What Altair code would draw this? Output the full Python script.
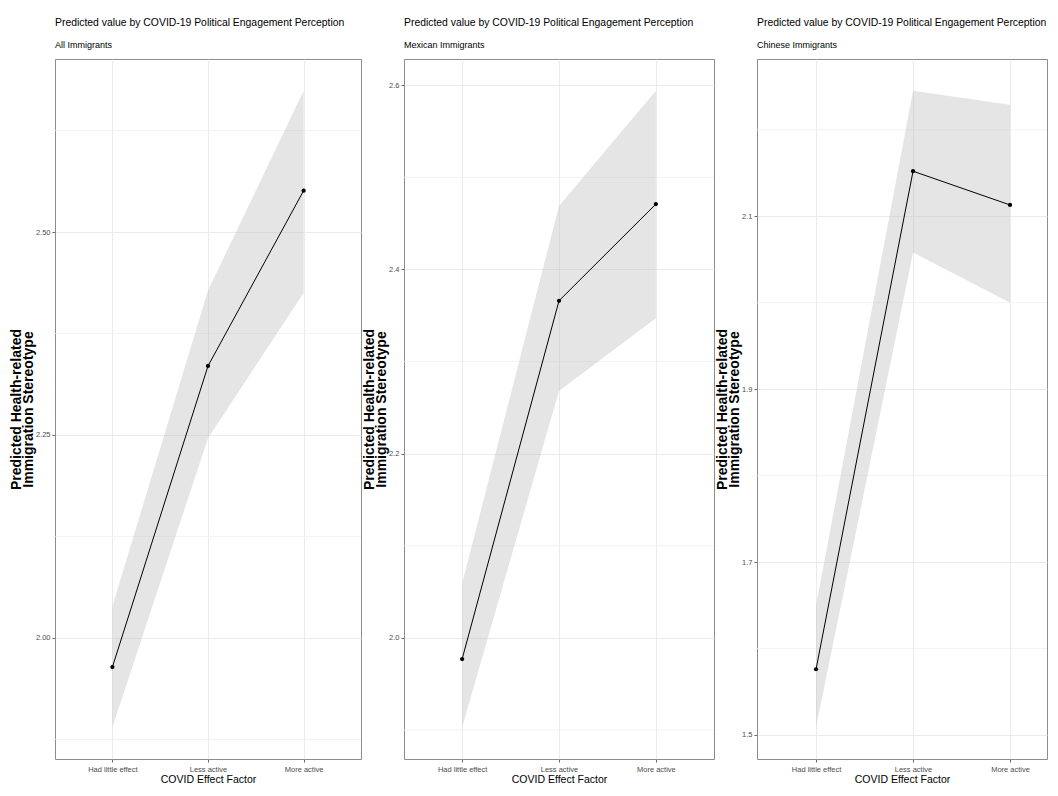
import altair as alt
import pandas as pd

# ---- data ----
categories = ["Had little effect", "Less active", "More active"]
panel_names = ["All Immigrants", "Mexican Immigrants", "Chinese Immigrants"]

fit_all = [1.964, 2.335, 2.551]
lower_all = [1.890, 2.246, 2.425]
upper_all = [2.039, 2.428, 2.674]

fit_mex = [1.977, 2.366, 2.471]
lower_mex = [1.903, 2.268, 2.347]
upper_mex = [2.059, 2.469, 2.594]

fit_chn = [1.576, 2.152, 2.113]
lower_chn = [1.509, 2.058, 2.000]
upper_chn = [1.650, 2.245, 2.229]

ticks_all = [2.00, 2.25, 2.50]
minor_all = [1.875, 2.125, 2.375, 2.625]
ticks_mex = [2.0, 2.2, 2.4, 2.6]
minor_mex = [1.9, 2.1, 2.3, 2.5]
ticks_chn = [1.5, 1.7, 1.9, 2.1]
minor_chn = [1.6, 1.8, 2.0, 2.2]

title_text = "Predicted value by COVID-19 Political Engagement Perception"
y_title = ["Predicted Health-related", "Immigration Stereotype"]
x_title = "COVID Effect Factor"

FONT = "Liberation Sans, Arial, sans-serif"
PLOT_H = 700


def panel(name, fit, lo, hi, ticks, minor, fmt, width, xpad=0.6, xalign=0.5):
    df = pd.DataFrame({"cat": categories, "fit": fit, "lo": lo, "hi": hi})
    dmin, dmax = min(lo), max(hi)
    pad = 0.05 * (dmax - dmin)
    yscale = alt.Scale(domain=[dmin - pad, dmax + pad], nice=False, zero=False)
    yaxis = alt.Axis(title=y_title, values=ticks, format=fmt, grid=True)
    xenc = alt.X(
        "cat:N",
        sort=categories,
        scale=alt.Scale(type="point", padding=xpad, align=xalign),
        axis=alt.Axis(title=x_title, labelAngle=0, grid=True),
    )
    minor_df = pd.DataFrame({"v": minor})
    grid = alt.Chart(minor_df).mark_rule(color="#f0f0f0", strokeWidth=0.8).encode(
        y=alt.Y("v:Q", scale=yscale, axis=yaxis)
    )
    base = alt.Chart(df)
    band = base.mark_area(color="#bdbdbd", opacity=0.4).encode(
        x=xenc, y=alt.Y("lo:Q", scale=yscale, axis=yaxis), y2="hi:Q"
    )
    line = base.mark_line(color="black", strokeWidth=1).encode(
        x=xenc, y=alt.Y("fit:Q", scale=yscale, axis=yaxis)
    )
    pts = base.mark_circle(color="black", size=18, opacity=1).encode(
        x=xenc, y=alt.Y("fit:Q", scale=yscale, axis=yaxis)
    )
    return alt.layer(grid, band, line, pts).properties(
        width=width,
        height=PLOT_H,
        title=alt.TitleParams(text=title_text, subtitle=name),
    )


p1 = panel(panel_names[0], fit_all, lower_all, upper_all, ticks_all, minor_all, ".2f", 306)
p2 = panel(panel_names[1], fit_mex, lower_mex, upper_mex, ticks_mex, minor_mex, ".1f", 310)
p3 = panel(panel_names[2], fit_chn, lower_chn, upper_chn, ticks_chn, minor_chn, ".1f", 290,
           xpad=0.495, xalign=0.615)

chart = (
    alt.hconcat(p1, p2, p3, spacing=43, bounds="flush")
    .properties(padding={"left": 0, "top": 9, "right": 0, "bottom": 0})
    .configure_view(stroke="#8c8c8c", strokeWidth=1)
    .configure_axis(
        domain=False,
        tickColor="#666666",
        tickSize=3,
        gridColor="#ebebeb",
        gridWidth=1,
        labelColor="#4d4d4d",
        labelFont=FONT,
        titleColor="black",
    )
    .configure_axisX(
        labelFontSize=7.5,
        labelPadding=3,
        titleFont=FONT,
        titleFontSize=10.5,
        titleFontWeight="normal",
        titlePadding=2,
    )
    .configure_axisY(
        labelFontSize=7.5,
        labelPadding=2,
        titleFont=FONT,
        titleFontSize=14,
        titleFontWeight="bold",
        titleLineHeight=12,
        titlePadding=0,
        minExtent=0,
    )
    .configure_title(
        font=FONT,
        fontSize=10.4,
        fontWeight="normal",
        color="black",
        subtitleFont=FONT,
        subtitleFontSize=9,
        subtitleColor="black",
        anchor="start",
        frame="group",
        offset=9.5,
        subtitlePadding=12,
    )
)

chart.save("out.html", embed_options={"renderer": "svg", "actions": False})
